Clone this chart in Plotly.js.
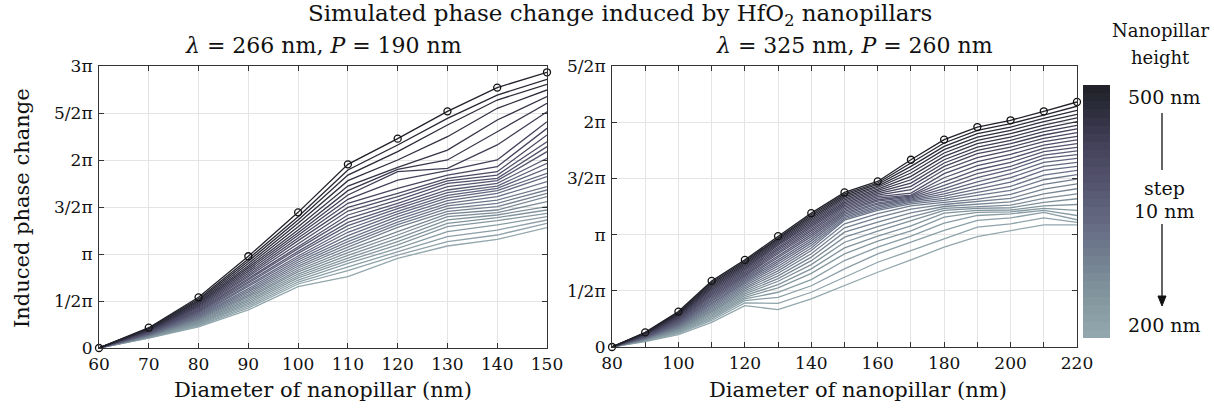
<!DOCTYPE html>
<html><head><meta charset="utf-8">
<script src="https://cdn.plot.ly/plotly-3.0.1.min.js"></script>
<style>html,body{margin:0;padding:0;background:#fff;}#plot{width:1214px;height:412px;}</style>
</head><body><div id="plot"></div>
<script>
// Nanopillar heights (nm), ordered as in every column below: 500 -> 200
const heights = [500,490,480,470,460,450,440,430,420,410,400,390,380,370,360,350,340,330,320,310,300,290,280,270,260,250,240,230,220,210,200];

// Left panel: lambda = 266 nm, P = 190 nm
const diamL = [60,70,80,90,100,110,120,130,140,150];
// phase change in units of pi; one inner array per diameter, values by height (500 -> 200)
const phaseL = [
 [0,0,0,0,0,0,0,0,0,0,0,0,0,0,0,0,0,0,0,0,0,0,0,0,0,0,0,0,0,0,0],
 [0.216,0.210,0.205,0.200,0.195,0.190,0.186,0.182,0.178,0.174,0.170,0.166,0.162,0.158,0.154,0.150,0.146,0.143,0.140,0.137,0.134,0.131,0.128,0.125,0.122,0.119,0.116,0.113,0.110,0.107,0.104],
 [0.539,0.522,0.507,0.493,0.480,0.468,0.456,0.445,0.434,0.423,0.412,0.402,0.392,0.382,0.372,0.362,0.352,0.343,0.334,0.325,0.316,0.307,0.298,0.289,0.280,0.271,0.262,0.253,0.244,0.235,0.224],
 [0.976,0.948,0.922,0.898,0.876,0.855,0.835,0.815,0.796,0.777,0.758,0.740,0.722,0.704,0.686,0.668,0.650,0.632,0.614,0.597,0.580,0.563,0.546,0.529,0.512,0.495,0.478,0.461,0.444,0.426,0.405],
 [1.443,1.397,1.362,1.326,1.291,1.255,1.227,1.199,1.170,1.142,1.113,1.085,1.057,1.028,1.007,0.979,0.957,0.936,0.915,0.894,0.872,0.851,0.830,0.809,0.787,0.766,0.745,0.723,0.702,0.681,0.652],
 [1.954,1.894,1.840,1.780,1.723,1.674,1.628,1.582,1.539,1.496,1.457,1.415,1.376,1.337,1.301,1.266,1.231,1.195,1.160,1.131,1.103,1.074,1.043,1.014,0.986,0.957,0.929,0.901,0.865,0.823,0.759],
 [2.227,2.160,2.089,2.000,1.922,1.901,1.876,1.787,1.699,1.645,1.610,1.574,1.539,1.511,1.482,1.454,1.426,1.397,1.369,1.340,1.312,1.284,1.238,1.202,1.167,1.131,1.096,1.060,1.025,0.989,0.954],
 [2.518,2.443,2.372,2.248,2.106,2.000,1.911,1.887,1.840,1.805,1.777,1.752,1.716,1.681,1.652,1.624,1.596,1.567,1.539,1.511,1.482,1.454,1.426,1.397,1.362,1.326,1.291,1.238,1.184,1.131,1.085],
 [2.770,2.691,2.638,2.550,2.426,2.301,2.160,2.000,1.929,1.876,1.840,1.805,1.780,1.752,1.723,1.699,1.674,1.645,1.610,1.574,1.539,1.504,1.468,1.440,1.415,1.387,1.355,1.309,1.255,1.202,1.156],
 [2.933,2.858,2.805,2.745,2.674,2.603,2.514,2.408,2.337,2.266,2.195,2.142,2.089,2.018,1.965,1.911,1.858,1.823,1.770,1.716,1.681,1.645,1.610,1.557,1.504,1.468,1.433,1.397,1.362,1.326,1.280]
];

// Right panel: lambda = 325 nm, P = 260 nm
const diamR = [80,90,100,110,120,130,140,150,160,170,180,190,200,210,220];
const phaseR = [
 [0,0,0,0,0,0,0,0,0,0,0,0,0,0,0,0,0,0,0,0,0,0,0,0,0,0,0,0,0,0,0],
 [0.130,0.127,0.124,0.121,0.118,0.115,0.112,0.109,0.106,0.103,0.100,0.097,0.094,0.091,0.088,0.085,0.082,0.080,0.078,0.076,0.074,0.072,0.070,0.068,0.066,0.064,0.062,0.059,0.056,0.052,0.047],
 [0.315,0.308,0.301,0.294,0.287,0.280,0.273,0.266,0.259,0.252,0.245,0.238,0.231,0.224,0.217,0.210,0.203,0.197,0.191,0.185,0.179,0.173,0.167,0.161,0.155,0.149,0.143,0.137,0.130,0.121,0.110],
 [0.588,0.576,0.564,0.552,0.540,0.528,0.516,0.504,0.492,0.480,0.468,0.456,0.444,0.432,0.420,0.408,0.396,0.384,0.372,0.360,0.348,0.336,0.324,0.312,0.300,0.288,0.276,0.264,0.251,0.236,0.219],
 [0.775,0.763,0.751,0.739,0.728,0.716,0.704,0.692,0.680,0.668,0.656,0.644,0.633,0.621,0.609,0.597,0.585,0.573,0.561,0.546,0.531,0.517,0.502,0.487,0.472,0.457,0.442,0.428,0.413,0.392,0.368],
 [0.986,0.974,0.962,0.950,0.938,0.927,0.915,0.903,0.888,0.873,0.858,0.843,0.829,0.811,0.793,0.775,0.757,0.739,0.719,0.698,0.677,0.656,0.633,0.609,0.585,0.555,0.526,0.487,0.442,0.389,0.332],
 [1.191,1.177,1.163,1.149,1.135,1.121,1.107,1.093,1.078,1.063,1.048,1.033,1.017,1.000,0.982,0.963,0.944,0.924,0.903,0.881,0.858,0.830,0.800,0.768,0.733,0.695,0.655,0.600,0.545,0.487,0.428],
 [1.375,1.362,1.349,1.336,1.323,1.310,1.297,1.284,1.271,1.258,1.245,1.232,1.219,1.206,1.193,1.180,1.167,1.154,1.141,1.128,1.096,1.060,1.022,0.977,0.932,0.882,0.829,0.769,0.695,0.621,0.546],
 [1.473,1.459,1.446,1.432,1.419,1.405,1.392,1.378,1.365,1.351,1.337,1.324,1.310,1.297,1.283,1.270,1.256,1.242,1.229,1.215,1.186,1.150,1.111,1.072,1.030,0.986,0.941,0.888,0.829,0.754,0.665],
 [1.666,1.637,1.607,1.577,1.548,1.518,1.488,1.458,1.429,1.399,1.369,1.351,1.343,1.334,1.325,1.316,1.307,1.298,1.286,1.274,1.256,1.227,1.194,1.158,1.120,1.078,1.034,0.986,0.933,0.858,0.775],
 [1.845,1.815,1.785,1.756,1.726,1.696,1.666,1.637,1.607,1.577,1.542,1.506,1.470,1.438,1.408,1.384,1.363,1.343,1.322,1.304,1.286,1.268,1.250,1.233,1.215,1.191,1.155,1.102,1.037,0.962,0.888],
 [1.957,1.928,1.898,1.868,1.839,1.809,1.779,1.750,1.720,1.684,1.649,1.613,1.577,1.542,1.506,1.470,1.435,1.405,1.375,1.346,1.316,1.292,1.268,1.250,1.233,1.215,1.197,1.170,1.126,1.066,0.983],
 [2.017,1.987,1.957,1.928,1.898,1.868,1.839,1.809,1.779,1.750,1.714,1.678,1.643,1.607,1.577,1.542,1.506,1.467,1.429,1.393,1.357,1.322,1.292,1.262,1.239,1.219,1.203,1.185,1.149,1.096,1.037],
 [2.097,2.064,2.035,2.005,1.975,1.946,1.916,1.886,1.857,1.827,1.797,1.767,1.738,1.708,1.678,1.643,1.607,1.571,1.530,1.488,1.447,1.405,1.363,1.322,1.286,1.256,1.233,1.215,1.197,1.149,1.087],
 [2.180,2.142,2.106,2.070,2.038,2.005,1.972,1.940,1.907,1.874,1.842,1.809,1.776,1.744,1.711,1.678,1.643,1.607,1.571,1.533,1.494,1.452,1.408,1.363,1.319,1.268,1.215,1.170,1.132,1.108,1.087]
];

// Tick labels
const yTickValsL = [0,0.5,1,1.5,2,2.5,3];
const yTickTextL = ['0','1/2π','π','3/2π','2π','5/2π','3π'];
const yTickValsR = [0,0.5,1,1.5,2,2.5];
const yTickTextR = ['0','1/2π','π','3/2π','2π','5/2π'];
const xTickTextL = ['60','70','80','90','100','110','120','130','140','150'];
const xTickValsR = [80,100,120,140,160,180,200,220];
const xTickTextR = ['80','100','120','140','160','180','200','220'];

// Colormap (light 200 nm -> dark 500 nm)
const cStops = [[0,[146,167,173]],[0.2,[126,144,154]],[0.4,[105,114,136]],[0.6,[86,85,112]],[0.75,[70,68,93]],[0.9,[47,47,63]],[1,[33,34,42]]];
function colorFor(h){
  const t = (h-200)/300;
  for(let i=1;i<cStops.length;i++){
    if(t<=cStops[i][0]){
      const a=cStops[i-1], b=cStops[i]; const f=(t-a[0])/(b[0]-a[0]);
      const c=a[1].map((v,k)=>Math.round(v+(b[1][k]-v)*f));
      return 'rgb('+c.join(',')+')';
    }
  }
  return 'rgb('+cStops[cStops.length-1][1].join(',')+')';
}
const colorscale = cStops.map(s=>[s[0],'rgb('+s[1].join(',')+')']);

const traces = [];
function addPanel(diams, phase, xa, ya){
  for(let j=heights.length-1;j>=0;j--){
    const h = heights[j];
    const y = diams.map((d,i)=>phase[i][j]);
    traces.push({type:'scatter',mode:'lines',x:diams,y:y,xaxis:xa,yaxis:ya,
      line:{color:colorFor(h),width:1.3},hoverinfo:'skip'});
  }
  traces.push({type:'scatter',mode:'markers',x:diams,y:diams.map((d,i)=>phase[i][0]),xaxis:xa,yaxis:ya,
    cliponaxis:false,marker:{symbol:'circle-open',size:7,color:'#111',line:{width:1.3,color:'#111'}},hoverinfo:'skip'});
}
addPanel(diamL, phaseL, 'x', 'y');
addPanel(diamR, phaseR, 'x2', 'y2');

// colour bar as a stepped heatmap
const hAsc = heights.slice().reverse();
traces.push({type:'heatmap',x:[0],y:hAsc,z:hAsc.map(h=>[h]),xaxis:'x3',yaxis:'y3',
  colorscale:colorscale,zmin:200,zmax:500,showscale:false,hoverinfo:'skip'});

const FONT = 'DejaVu Serif, Liberation Serif, serif';
const axCommon = {ticks:'inside',ticklen:5,tickcolor:'#333',showline:true,linecolor:'#333',linewidth:1,
  mirror:'allticks',showgrid:true,gridcolor:'#e4e4e4',gridwidth:1,zeroline:false,
  tickfont:{family:FONT,size:17,color:'#111'}};
function txt(text,x,y,size,extra){
  return Object.assign({text:text,xref:'paper',yref:'paper',x:x/1214,y:(412-y)/412,xanchor:'center',yanchor:'middle',
    showarrow:false,font:{family:FONT,size:size,color:'#111'}},extra||{});
}
const P = (px,py)=>(px/1214).toFixed(5)+','+((412-py)/412).toFixed(5);

const layout = {
  width:1214,height:412,margin:{l:0,r:0,t:0,b:0},paper_bgcolor:'#fff',plot_bgcolor:'#fff',showlegend:false,
  font:{family:FONT,size:17,color:'#111'},
  xaxis:Object.assign({},axCommon,{domain:[99/1214,547/1214],anchor:'y',range:[60,150],tickvals:diamL,ticktext:xTickTextL,ticklabelstandoff:1}),
  yaxis:Object.assign({},axCommon,{domain:[64/412,346/412],anchor:'x',range:[0,3],tickvals:yTickValsL,ticktext:yTickTextL,ticklabelstandoff:2}),
  xaxis2:Object.assign({},axCommon,{domain:[612/1214,1077/1214],anchor:'y2',range:[80,220],tickvals:xTickValsR,ticktext:xTickTextR,ticklabelstandoff:1,
    minor:{tickmode:'linear',tick0:90,dtick:20,ticks:'inside',ticklen:5,tickcolor:'#333',showgrid:true,gridcolor:'#e4e4e4',gridwidth:1}}),
  yaxis2:Object.assign({},axCommon,{domain:[65/412,346/412],anchor:'x2',range:[0,2.5],tickvals:yTickValsR,ticktext:yTickTextR,ticklabelstandoff:2}),
  xaxis3:{domain:[1083/1214,1110/1214],anchor:'y3',range:[-0.5,0.5],visible:false,fixedrange:true},
  yaxis3:{domain:[74/412,327/412],anchor:'x3',range:[195,505],visible:false,fixedrange:true},
  annotations:[
    txt('Simulated phase change induced by HfO<sub>2</sub> nanopillars',620,15,23),
    txt('<i>λ</i> = 266 nm, <i>P</i> = 190 nm',323,46,22),
    txt('<i>λ</i> = 325 nm, <i>P</i> = 260 nm',855,46,22),
    txt('Diameter of nanopillar (nm)',323,390,21),
    txt('Diameter of nanopillar (nm)',858,390,21),
    txt('Induced phase change',22,208,21,{textangle:-90}),
    txt('Nanopillar',1160,31,18),
    txt('height',1160,57,18),
    txt('500 nm',1164,97,19),
    txt('step',1164,188,19),
    txt('10 nm',1164,211,19),
    txt('200 nm',1164,325,19)
  ],
  shapes:[
    {type:'line',xref:'paper',yref:'paper',x0:1162/1214,x1:1162/1214,y0:(412-113)/412,y1:(412-170)/412,line:{color:'#111',width:1.3}},
    {type:'line',xref:'paper',yref:'paper',x0:1162/1214,x1:1162/1214,y0:(412-224)/412,y1:(412-298)/412,line:{color:'#111',width:1.3}},
    {type:'path',xref:'paper',yref:'paper',path:'M'+P(1158,296)+' L'+P(1166,296)+' L'+P(1162,306)+' Z',fillcolor:'#111',line:{color:'#111',width:1}}
  ]
};
Plotly.newPlot('plot',traces,layout,{staticPlot:true,displayModeBar:false});
</script>
</body></html>
